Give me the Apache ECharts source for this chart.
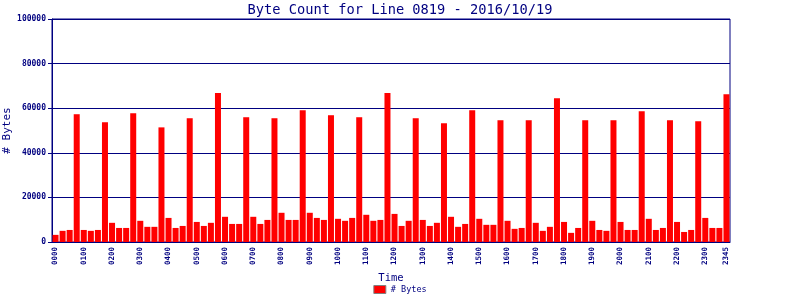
<!DOCTYPE html>
<html><head><meta charset="utf-8">
<script src="https://cdn.jsdelivr.net/npm/echarts@6/dist/echarts.min.js"></script>
<style>html,body{margin:0;padding:0;background:#fff}#c{width:800px;height:300px}</style>
</head><body><div id="c"></div>
<script>
const titleText = 'Byte Count for Line 0819 - 2016/10/19';
const times = [];
for (let h = 0; h < 24; h++) for (let m = 0; m < 60; m += 15) times.push(String(h).padStart(2,'0') + String(m).padStart(2,'0'));
const bytes = [
 3200, 5000, 5400, 57300, 5400, 5000, 5400, 53700,
 8600, 6300, 6300, 57750, 9500, 6800, 6800, 51400,
 10800, 6300, 7200, 55500, 9000, 7200, 8600, 66800,
 11300, 8100, 8100, 55950, 11300, 8100, 9900, 55500,
 13100, 9900, 9900, 59100, 13100, 10800, 9900, 56850,
 10400, 9500, 10800, 55950, 12200, 9500, 9900, 66800,
 12600, 7200, 9500, 55500, 9900, 7200, 8600, 53250,
 11300, 6800, 8100, 59100, 10400, 7700, 7700, 54600,
 9500, 5900, 6300, 54600, 8600, 5000, 6800, 64500,
 9000, 4100, 6300, 54600, 9500, 5400, 5000, 54600,
 9000, 5400, 5400, 58650, 10400, 5400, 6300, 54600,
 9000, 4500, 5400, 54150, 10800, 6300, 6300, 66300
];
const yTicks = [0, 20000, 40000, 60000, 80000, 100000];
const navy = '#000080';
const mono = 'DejaVu Sans Mono';
const chart = echarts.init(document.getElementById('c'));
chart.setOption({
  animation: false,
  title: { text: titleText, left: 'center', top: -2,
    textStyle: { color: navy, fontFamily: mono, fontSize: 13.7, fontWeight: 'normal' } },
  grid: { left: 52, right: 70, top: 19, bottom: 58, show: true, borderColor: navy, borderWidth: 1,
    containLabel: false, outerBoundsMode: 'none' },
  legend: { bottom: 1, left: 'center', data: ['# Bytes'], icon: 'rect', itemWidth: 12, itemHeight: 8, itemGap: 4,
    itemStyle: { borderColor: '#808080', borderWidth: 1 },
    textStyle: { color: navy, fontFamily: mono, fontSize: 8.5 } },
  xAxis: { type: 'category', data: times, name: 'Time', nameLocation: 'middle', nameGap: 31,
    nameMoveOverlap: false,
    nameTextStyle: { color: navy, fontFamily: mono, fontSize: 10.5 },
    axisLine: { lineStyle: { color: navy, width: 1 } }, axisTick: { show: false },
    axisLabel: { rotate: 90, color: navy, fontFamily: mono, fontSize: 7.5, fontWeight: 'bold', margin: 5,
      hideOverlap: false,
      interval: function (i) { return i % 4 === 0 || i === times.length - 1; } } },
  yAxis: { type: 'value', min: yTicks[0], max: yTicks[yTicks.length-1], interval: 20000,
    name: '# Bytes', nameLocation: 'middle', nameGap: 39, nameRotate: 90, nameMoveOverlap: false,
    nameTextStyle: { color: navy, fontFamily: mono, fontSize: 11 },
    axisLine: { show: true, lineStyle: { color: navy } },
    axisTick: { show: true, length: 4, lineStyle: { color: navy } },
    splitLine: { lineStyle: { color: navy, width: 1 } },
    axisLabel: { color: navy, fontFamily: mono, fontSize: 8, fontWeight: 'bold', margin: 6,
      formatter: function (v) { return String(v); } } },
  series: [{ name: '# Bytes', type: 'bar', data: bytes, barCategoryGap: '15%',
    itemStyle: { color: '#ff0000' } }]
});
</script></body></html>
